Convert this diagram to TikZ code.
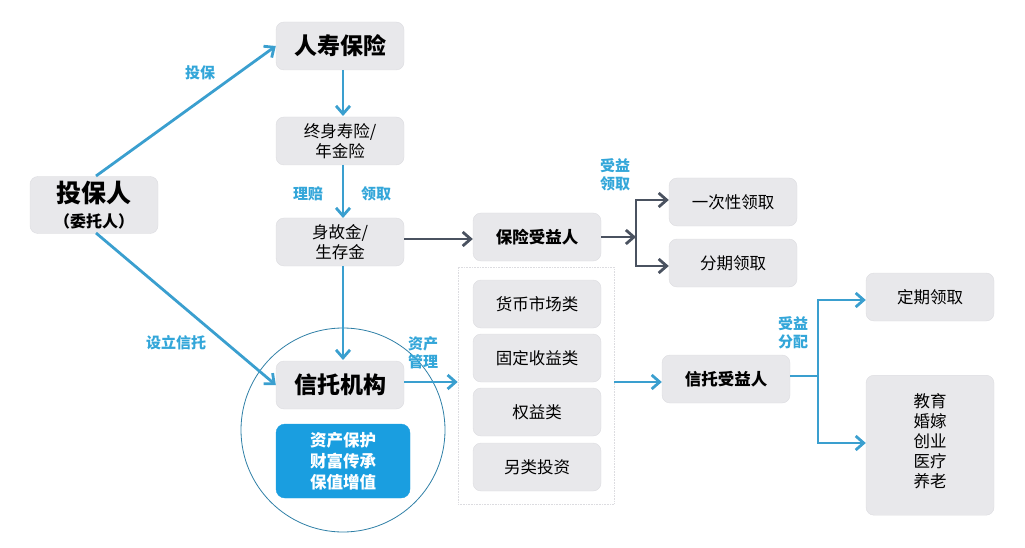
\documentclass[tikz,border=0pt]{standalone}
\usepackage{fontspec}
\setmainfont{Noto Sans CJK SC}
\usetikzlibrary{arrows.meta}
\definecolor{boxfill}{HTML}{E8E8EB}
\definecolor{boxline}{HTML}{DCDCE0}
\definecolor{arrblue}{HTML}{3A9FCF}
\definecolor{lblblue}{HTML}{33A6D9}
\definecolor{darkarr}{HTML}{4A5260}
\definecolor{bluebox}{HTML}{1A9EE0}
\tikzset{
  gbox/.style={draw=boxline, fill=boxfill, rounded corners=8pt, minimum width=128pt, minimum height=48pt, align=center, inner sep=2pt, font=\fontsize{16.5}{20}\selectfont},
  barrow/.style={draw=arrblue, line width=2.8pt, -{Straight Barb[length=8pt,width=14pt,line width=2.8pt]}},
  darrow/.style={draw=darkarr, line width=2.8pt, -{Straight Barb[length=8pt,width=14pt,line width=2.8pt]}},
  bline/.style={draw=arrblue, line width=2.8pt},
  dline/.style={draw=darkarr, line width=2.8pt},
  lbl/.style={text=lblblue, font=\bfseries\fontsize{15}{18}\selectfont, align=center, inner sep=0pt}
}
\begin{document}
\begin{tikzpicture}[x=1pt,y=-1pt]
\useasboundingbox (0,0) rectangle (1025,548);
% circle and container
\node[draw=arrblue!80!black, line width=0.8pt, circle, minimum size=204pt, inner sep=0pt] (circ) at (343,430) {};
\node[draw=boxline, densely dotted, line width=0.6pt, minimum width=156pt, minimum height=237pt, inner sep=0pt] (cont) at (536,385.5) {};
% boxes
\node[gbox, font=\bfseries\fontsize{23}{26}\selectfont] (life) at (340,46) {人寿保险};
\node[gbox] (whole) at (340,141) {终身寿险/\\年金险};
\node[gbox] (death) at (340,242) {身故金/\\生存金};
\node[gbox, minimum height=57pt, font=\bfseries\fontsize{25}{27}\selectfont] (holder) at (94,205) {投保人\\[-2pt]{\fontsize{16}{18}\selectfont （委托人）}};
\node[gbox, font=\bfseries\fontsize{23}{26}\selectfont] (trust) at (340,385) {信托机构};
\node[draw=bluebox, fill=bluebox, rounded corners=9pt, minimum width=134pt, minimum height=74pt, text=white, align=center, font=\bfseries\fontsize{16.5}{21}\selectfont] (func) at (343,461) {资产保护\\财富传承\\保值增值};
\node[gbox] (m1) at (537,304) {货币市场类};
\node[gbox] (m2) at (537,358) {固定收益类};
\node[gbox] (m3) at (537,412) {权益类};
\node[gbox] (m4) at (537,467) {另类投资};
\node[gbox, font=\bfseries\fontsize{16.5}{20}\selectfont] (ib) at (537,237) {保险受益人};
\node[gbox] (once) at (733,202) {一次性领取};
\node[gbox] (inst) at (733,263) {分期领取};
\node[gbox, font=\bfseries\fontsize{16.5}{20}\selectfont] (tb) at (726,379) {信托受益人};
\node[gbox] (reg) at (930,297) {定期领取};
\node[gbox, minimum height=140pt, text depth=0pt, anchor=north] (uses) at (930,375) {};
\node[align=center, font=\fontsize{16.5}{20}\selectfont, inner sep=0pt] (usestxt) at (930,441) {教育\\婚嫁\\创业\\医疗\\养老};
% coordinates
\coordinate (s1) at (636,237);
\coordinate (s1a) at (636,200);
\coordinate (s1b) at (636,266);
\coordinate (s2) at (818,376);
\coordinate (s2a) at (818,300);
\coordinate (s2b) at (818,443);
% arrows
\draw[barrow] (96,176) -- (life.west);
\draw[barrow] (96,233) -- (trust.west);
\draw[barrow] (life.south -| 343,0) -- (343,116);
\draw[barrow] (343,165) -- (343,218);
\draw[barrow] (343,266) -- (343,360);
\draw[darrow] (death.east |- 0,239) -- (ib.west |- 0,239);
\draw[darrow] (ib.east) -- (s1);
\draw[dline, line cap=rect] (s1a) -- (s1b);
\draw[darrow] (s1a) -- (once.west |- s1a);
\draw[darrow] (s1b) -- (inst.west |- s1b);
\draw[barrow] (trust.east |- 0,382) -- (cont.west |- 0,382);
\draw[barrow] (cont.east |- 0,382) -- (tb.west |- 0,382);
\draw[bline] (tb.east |- s2) -- (s2);
\draw[bline, line cap=rect] (s2a) -- (s2b);
\draw[barrow] (s2a) -- (reg.west |- s2a);
\draw[barrow] (s2b) -- (uses.west |- s2b);
% labels
\node[lbl] (l1) at (200,73) {投保};
\node[lbl] (l2) at (176,343) {设立信托};
\node[lbl] (l3) at (308,194) {理赔};
\node[lbl] (l4) at (376,194) {领取};
\node[lbl] (l5) at (615,175) {受益\\领取};
\node[lbl] (l6) at (423,353) {资产\\管理};
\node[lbl] (l7) at (793,333) {受益\\分配};
\end{tikzpicture}
\end{document}
